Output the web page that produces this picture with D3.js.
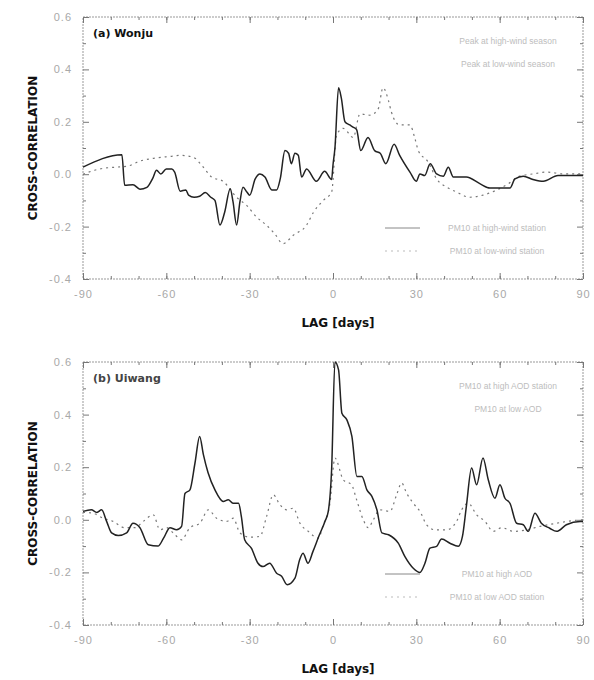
<!DOCTYPE html>
<html>
<head>
<meta charset="utf-8">
<script src="https://cdn.jsdelivr.net/npm/d3@7"></script>
<style>
  body { margin: 0; background: #fff; }
  svg { display: block; }
</style>
</head>
<body>
<div id="chart"></div>
<script>
var width = 594;
var height = 680;

// lag axis ticks and y ticks
var lagTicks = [-90, -60, -30, 0, 30, 60, 90];
var corrTicks = [-0.4, -0.2, 0.0, 0.2, 0.4, 0.6];

// (a) Wonju - [lag, correlation]
var wonjuSolid = [
  [-90, 0.027], [-76, 0.074], [-75, -0.042], [-72, -0.04], [-69.5, -0.057], [-67, -0.05],
  [-65, -0.018], [-63.5, 0.015], [-62, 0.001], [-60, 0.02], [-58, 0.02], [-57, 0.008],
  [-55, -0.065], [-53, -0.06], [-52, -0.08], [-50, -0.088], [-48, -0.084], [-46, -0.07],
  [-44, -0.088], [-42.5, -0.1], [-40.7, -0.194], [-39, -0.145], [-37, -0.056], [-36, -0.105],
  [-34.7, -0.194], [-33.5, -0.105], [-32.4, -0.05], [-31, -0.068], [-30, -0.08], [-28, -0.018],
  [-26.3, 0.001], [-24.5, -0.011], [-22, -0.06], [-20.3, -0.06], [-19, -0.018], [-17.3, 0.09],
  [-16, 0.08], [-15, 0.04], [-13.7, 0.08], [-12.5, 0.072], [-11.3, -0.011], [-9.5, 0.02],
  [-6, -0.027], [-3, 0.011], [-0.5, -0.02], [0, 0.035], [0.7, 0.1], [2, 0.33], [3, 0.29],
  [4.3, 0.2], [6, 0.188], [7.2, 0.18], [8.5, 0.17], [10, 0.09], [12.6, 0.14], [15, 0.09],
  [17, 0.08], [19, 0.04], [22, 0.114], [24, 0.072], [27.7, 0.008], [30, -0.027], [31.3, 0.001],
  [33, -0.005], [35, 0.04], [37.3, 0.001], [39.7, -0.008], [41.5, 0.027], [43.3, -0.011],
  [48, -0.011], [53, -0.037], [56.5, -0.053], [63.7, -0.053], [65.5, -0.018], [68.5, -0.008],
  [72, -0.02], [75.7, -0.027], [81, -0.005], [90, -0.005]
];
var wonjuDashed = [
  [-90, 0.0], [-84, 0.02], [-78, 0.027], [-74.3, 0.03], [-69.5, 0.05], [-65, 0.06],
  [-58.7, 0.068], [-55, 0.072], [-50.4, 0.065], [-46.7, 0.027], [-43.7, -0.011], [-39.6, -0.027],
  [-34.7, -0.088], [-31, -0.12], [-27.5, -0.164], [-24, -0.194], [-21, -0.227], [-18, -0.265],
  [-14.3, -0.233], [-9.5, -0.194], [-7, -0.145], [-3.5, -0.1], [-0.5, -0.068], [1.3, 0.15],
  [3.7, 0.175], [7.3, 0.14], [9.7, 0.23], [13.3, 0.225], [16.3, 0.25], [18, 0.33], [20, 0.28],
  [21, 0.238], [24, 0.188], [27.7, 0.188], [29.5, 0.136], [30.7, 0.09], [34.3, 0.046],
  [37.3, -0.018], [41, -0.05], [44.5, -0.068], [49.3, -0.088], [54, -0.08], [59, -0.06],
  [63, -0.037], [67, -0.008], [72, 0.001], [77, 0.008], [83, 0.001], [90, 0.001]
];

// (b) Uiwang - [lag, correlation]
var uiwangSolid = [
  [-90, 0.032], [-87, 0.038], [-85, 0.028], [-83.3, 0.038], [-81.5, -0.006], [-79.7, -0.05],
  [-77.3, -0.06], [-74.3, -0.05], [-72, -0.013], [-69.5, -0.03], [-66.5, -0.095], [-63, -0.1],
  [-61, -0.07], [-58.7, -0.03], [-56.3, -0.038], [-54.5, -0.025], [-53.3, 0.1], [-51.5, 0.114],
  [-49.7, 0.215], [-48, 0.317], [-46.7, 0.25], [-45, 0.18], [-42.5, 0.114], [-39.5, 0.07],
  [-37.7, 0.076], [-36, 0.063], [-34, 0.063], [-33, 0.013], [-31.8, -0.076], [-29.4, -0.108],
  [-27, -0.165], [-25.2, -0.178], [-22.8, -0.165], [-20.3, -0.203], [-18.5, -0.215],
  [-16.5, -0.247], [-13.7, -0.222], [-12, -0.152], [-10.8, -0.127], [-9, -0.165], [-7.2, -0.12],
  [-5, -0.06], [-2.9, -0.006], [-1.7, 0.032], [-0.5, 0.19], [0.7, 0.6], [2, 0.57], [3.2, 0.405],
  [5, 0.38], [6.8, 0.317], [8.6, 0.165], [10.4, 0.165], [12.2, 0.114], [14, 0.089], [15.8, 0.038],
  [17.6, -0.05], [20, -0.057], [23.5, -0.089], [25.9, -0.14], [28.9, -0.184], [31.3, -0.2],
  [33.1, -0.165], [34.9, -0.108], [37.3, -0.101], [39.1, -0.073], [42.1, -0.089], [45.1, -0.101],
  [46.6, -0.063], [48, 0.05], [49.9, 0.197], [51.7, 0.133], [54, 0.235], [55.9, 0.152],
  [58.3, 0.082], [60.1, 0.133], [61.9, 0.082], [63.7, 0.063], [66.1, -0.013], [68.5, -0.019],
  [70.3, -0.044], [72.7, 0.025], [75, -0.013], [78, -0.032], [80.5, -0.044], [84, -0.019],
  [89, -0.006], [90, -0.006]
];
var uiwangDashed = [
  [-90, 0.028], [-86.4, 0.025], [-82.8, 0.006], [-79.2, -0.006], [-75, -0.03], [-71.3, -0.03],
  [-68.3, -0.006], [-64.7, 0.019], [-62.3, -0.038], [-59.9, -0.03], [-57.5, -0.05], [-54.5, -0.076],
  [-51.5, -0.03], [-47.9, -0.013], [-44.9, 0.038], [-41.9, 0.006], [-38.3, -0.006], [-35.9, 0.006],
  [-33.5, -0.05], [-29.9, -0.066], [-26.3, -0.063], [-23.9, 0.013], [-21.5, 0.095], [-19.1, 0.057],
  [-16.7, 0.038], [-14.3, 0.044], [-11.9, -0.013], [-8.9, -0.044], [-5.3, -0.07], [-3.5, -0.019],
  [-1.1, 0.063], [0.7, 0.235], [3.7, 0.152], [6.7, 0.133], [8.5, 0.076], [10.9, 0], [12.7, -0.03],
  [14.5, 0], [16.9, 0.038], [20.5, 0.032], [22.9, 0.095], [24.7, 0.14], [26.5, 0.101],
  [28.9, 0.063], [31.3, 0.032], [33.7, -0.019], [36.7, -0.038], [40.9, -0.038], [44.5, -0.006],
  [46.3, 0.038], [48.7, 0.063], [51.7, 0.019], [54.7, -0.006], [57.7, -0.044], [60.7, -0.03],
  [64.9, -0.044], [69.7, -0.038], [74.5, -0.025], [80.5, -0.013], [86.5, -0.003], [90, 0]
];

var panels = [
  { title: "(a) Wonju", titleColor: "#111", top: 17, bottom: 279, solid: wonjuSolid, dashed: wonjuDashed,
    topLegend: ["Peak at high-wind season", "Peak at low-wind season"],
    botLegend: ["PM10 at high-wind station", "PM10 at low-wind station"] },
  { title: "(b) Uiwang", titleColor: "#444", top: 362, bottom: 625, solid: uiwangSolid, dashed: uiwangDashed,
    topLegend: ["PM10 at high AOD station", "PM10 at low AOD"],
    botLegend: ["PM10 at high AOD", "PM10 at low AOD station"] }
];

var left = 83, right = 583;

// plain hyphen instead of the unicode minus d3 uses
var fmtLag = function(d) { return String(d); };
var fmtCorr = function(d) { return d3.format(".1f")(d).replace("\u2212", "-"); };

var canvas = d3.select("#chart")
    .append("svg")
    .attr("width", width)
    .attr("height", height)
    .style("font-family", "'Liberation Sans', Arial, sans-serif");

canvas.append("rect")
    .attr("width", width)
    .attr("height", height)
    .attr("fill", "#fff");

var x = d3.scaleLinear().domain([-90, 90]).range([left, right]);

panels.forEach(function(p) {
    var y = d3.scaleLinear().domain([-0.4, 0.6]).range([p.bottom, p.top]);
    var g = canvas.append("g");

    // frame
    g.append("rect")
        .attr("x", left)
        .attr("y", p.top)
        .attr("width", right - left)
        .attr("height", p.bottom - p.top)
        .attr("fill", "none")
        .style("stroke", "#999")
        .style("stroke-width", 1)
        .style("stroke-dasharray", "2,1");

    // inward ticks, all four sides
    var minorX = d3.range(-80, 90, 10);
    g.append("g").attr("transform", "translate(0," + p.bottom + ")")
        .call(d3.axisBottom(x).tickValues(minorX).tickSize(-3).tickFormat(""));
    g.append("g").attr("transform", "translate(0," + p.top + ")")
        .call(d3.axisTop(x).tickValues(minorX).tickSize(-3).tickFormat(""));
    g.append("g").attr("transform", "translate(0," + p.bottom + ")")
        .call(d3.axisBottom(x).tickValues(lagTicks).tickSize(-6).tickPadding(11)
            .tickFormat(fmtLag));
    g.append("g").attr("transform", "translate(0," + p.top + ")")
        .call(d3.axisTop(x).tickValues(lagTicks).tickSize(-6).tickFormat(""));

    var minorY = d3.range(-0.3, 0.6, 0.2);
    g.append("g").attr("transform", "translate(" + left + ",0)")
        .call(d3.axisLeft(y).tickValues(minorY).tickSize(-3).tickFormat(""));
    g.append("g").attr("transform", "translate(" + right + ",0)")
        .call(d3.axisRight(y).tickValues(minorY).tickSize(-3).tickFormat(""));
    g.append("g").attr("transform", "translate(" + left + ",0)")
        .call(d3.axisLeft(y).tickValues(corrTicks).tickSize(-6).tickPadding(11)
            .tickFormat(fmtCorr));
    g.append("g").attr("transform", "translate(" + right + ",0)")
        .call(d3.axisRight(y).tickValues(corrTicks).tickSize(-6).tickFormat(""));

    g.selectAll(".domain").remove();
    g.selectAll(".tick line").style("stroke", "#777");
    g.selectAll(".tick text")
        .style("fill", "#a8a8a8")
        .style("font-size", "11px")
        .style("letter-spacing", "1px")
        .style("font-family", "'Liberation Sans', Arial, sans-serif");

    // series
    var line = d3.line()
        .x(function(d) { return x(d[0]); })
        .y(function(d) { return y(d[1]); })
        .curve(d3.curveMonotoneX);

    g.append("path")
        .datum(p.dashed)
        .attr("d", line)
        .attr("fill", "none")
        .style("stroke", "#777")
        .style("stroke-width", 1.2)
        .style("stroke-dasharray", "2,4");

    g.append("path")
        .datum(p.solid)
        .attr("d", line)
        .attr("fill", "none")
        .style("stroke", "#222")
        .style("stroke-width", 1.5);

    // panel label
    g.append("text")
        .attr("x", left + 10)
        .attr("y", p.top + 20)
        .text(p.title)
        .style("fill", p.titleColor)
        .style("font-family", "'DejaVu Sans', sans-serif")
        .style("font-weight", "bold")
        .style("font-size", "11px");

    // faint legends
    p.topLegend.forEach(function(t, i) {
        g.append("text")
            .attr("x", 508)
            .attr("y", p.top + 27 + i * 23)
            .text(t)
            .style("text-anchor", "middle")
            .style("fill", "#bdbdbd")
            .style("font-size", "8.5px");
    });
    p.botLegend.forEach(function(t, i) {
        var ly = p.bottom - 48 + i * 23;
        g.append("line")
            .attr("x1", 385).attr("x2", 420)
            .attr("y1", ly - 3).attr("y2", ly - 3)
            .style("stroke", i == 0 ? "#888" : "#bbb")
            .style("stroke-width", 1)
            .style("stroke-dasharray", i == 0 ? null : "2,4");
        g.append("text")
            .attr("x", 497)
            .attr("y", ly)
            .text(t)
            .style("text-anchor", "middle")
            .style("fill", "#bdbdbd")
            .style("font-size", "8.5px");
    });

    // axis titles
    g.append("text")
        .attr("transform", "translate(37," + ((p.top + p.bottom) / 2) + ") rotate(-90)")
        .text("CROSS-CORRELATION")
        .style("text-anchor", "middle")
        .style("fill", "#111")
        .style("font-family", "'DejaVu Sans', sans-serif")
        .style("font-weight", "bold")
        .style("font-size", "12px");

    g.append("text")
        .attr("x", 338)
        .attr("y", p.bottom + 48)
        .text("LAG [days]")
        .style("text-anchor", "middle")
        .style("fill", "#111")
        .style("font-family", "'DejaVu Sans', sans-serif")
        .style("font-weight", "bold")
        .style("font-size", "12px");
});
</script>
</body>
</html>
